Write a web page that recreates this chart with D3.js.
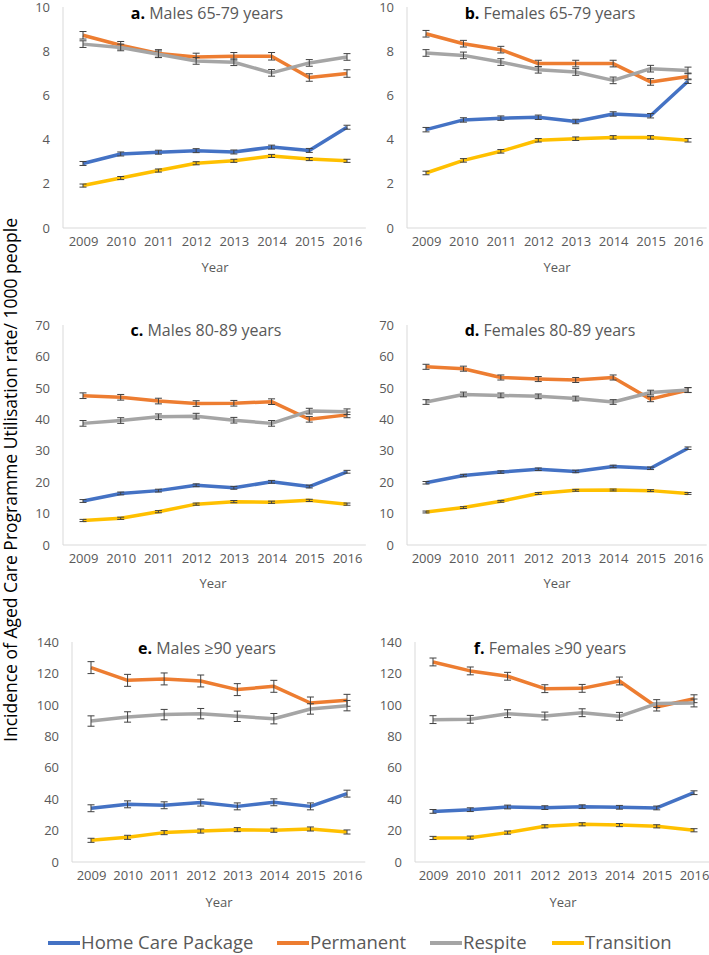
<!DOCTYPE html>
<html><head><meta charset="utf-8">
<script src="https://cdn.jsdelivr.net/npm/d3@7"></script>
<style>body{margin:0;background:#fff} svg{display:block} text{font-family:"Open Sans",sans-serif}</style>
</head><body><svg id="c" width="709" height="955"></svg>
<script>
const years = ["2009","2010","2011","2012","2013","2014","2015","2016"];
const seriesNames = ["Home Care Package","Permanent","Respite","Transition"];

// a. Males 65-79
const aHomeCare  = [2.92,3.35,3.43,3.50,3.44,3.66,3.51,4.56];
const aPermanent = [8.72,8.27,7.90,7.74,7.77,7.77,6.81,6.99];
const aRespite   = [8.32,8.17,7.86,7.56,7.50,7.02,7.47,7.74];
const aTransition= [1.92,2.26,2.60,2.93,3.04,3.26,3.12,3.04];
const aErr = [0.09,0.17,0.15,0.07];
// b. Females 65-79
const bHomeCare  = [4.45,4.89,4.97,5.01,4.82,5.16,5.08,6.64];
const bPermanent = [8.79,8.34,8.07,7.44,7.44,7.44,6.61,6.86];
const bRespite   = [7.92,7.81,7.51,7.16,7.06,6.68,7.21,7.13];
const bTransition= [2.49,3.06,3.47,3.97,4.04,4.10,4.10,3.97];
const bErr = [0.1,0.15,0.15,0.08];
// c. Males 80-89
const cHomeCare  = [14.0,16.4,17.3,19.0,18.2,20.1,18.6,23.3];
const cPermanent = [47.5,47.0,45.8,45.0,45.1,45.6,40.0,41.4];
const cRespite   = [38.7,39.6,40.8,41.0,39.7,38.7,42.6,42.4];
const cTransition= [7.8,8.5,10.6,13.0,13.8,13.6,14.2,13.0];
const cErr = [0.45,0.9,0.9,0.35];
// d. Females 80-89
const dHomeCare  = [19.8,22.1,23.2,24.1,23.4,25.0,24.4,30.8];
const dPermanent = [56.7,56.1,53.3,52.8,52.5,53.3,46.4,49.3];
const dRespite   = [45.5,47.9,47.6,47.3,46.6,45.5,48.5,49.3];
const dTransition= [10.5,11.9,13.9,16.4,17.4,17.5,17.3,16.4];
const dErr = [0.4,0.8,0.75,0.3];
// e. Males >=90
const eHomeCare  = [34.2,36.7,36.1,37.8,35.4,38.0,35.4,43.5];
const ePermanent = [123.7,115.6,116.5,115.2,109.7,111.8,101.2,102.9];
const eRespite   = [89.7,92.3,93.8,94.4,92.7,91.2,97.4,99.5];
const eTransition= [13.8,15.7,18.7,19.7,20.6,20.2,21.0,19.1];
const eErr = [2.2,3.8,3.3,1.3];
// f. Females >=90
const fHomeCare  = [32.2,33.3,35.0,34.6,35.2,34.8,34.4,44.1];
const fPermanent = [127.3,121.6,118.2,110.3,110.5,115.2,98.6,103.9];
const fRespite   = [90.6,90.8,94.4,92.9,95.0,92.7,100.8,101.2];
const fTransition= [15.3,15.5,18.7,22.7,24.0,23.5,22.7,20.2];
const fErr = [1.2,2.5,2.5,1.0];

const panelLetters = ["a.","b.","c.","d.","e.","f."];
const panelNames = ["Males 65-79 years","Females 65-79 years","Males 80-89 years","Females 80-89 years","Males \u226590 years","Females \u226590 years"];
const yMax  = [10,10,70,70,140,140];
const yStep = [2,2,10,10,20,20];
const xLabel = "Year";
const yTitle = "Incidence of Aged Care Programme Utilisation rate/ 1000 people";

const panelData = [
  [aHomeCare,aPermanent,aRespite,aTransition,aErr],
  [bHomeCare,bPermanent,bRespite,bTransition,bErr],
  [cHomeCare,cPermanent,cRespite,cTransition,cErr],
  [dHomeCare,dPermanent,dRespite,dTransition,dErr],
  [eHomeCare,ePermanent,eRespite,eTransition,eErr],
  [fHomeCare,fPermanent,fRespite,fTransition,fErr]
];

const colors = ["#4472C4","#ED7D31","#A5A5A5","#FFC000"];
const layout = [
 {ax:63, x0:83, x1:347, yTop:7, yBot:228, tx:207, ty:13, yearX:215, yearY:267},
 {ax:407,x0:426,x1:688, yTop:7, yBot:228, tx:550, ty:13, yearX:557, yearY:267},
 {ax:63, x0:83, x1:347, yTop:325,yBot:545, tx:206, ty:330,yearX:213, yearY:583},
 {ax:407,x0:426,x1:688, yTop:325,yBot:545, tx:550, ty:330,yearX:557, yearY:583},
 {ax:72, x0:91, x1:347, yTop:642,yBot:862, tx:207, ty:648,yearX:219, yearY:902},
 {ax:415,x0:433,x1:694, yTop:642,yBot:862, tx:550, ty:648,yearX:563, yearY:902}
];

const svg = d3.select("#c");
const textCol = "#595959";

panelData.forEach((pd, i) => {
  const L = layout[i];
  const g = svg.append("g");
  const x = d3.scalePoint().domain(years).range([L.x0, L.x1]);
  const step = x.step();
  const y = d3.scaleLinear().domain([0, yMax[i]]).range([L.yBot, L.yTop]);

  // axis lines
  g.append("line").attr("x1",L.ax).attr("x2",L.ax).attr("y1",L.yTop).attr("y2",L.yBot)
    .attr("stroke","#D9D9D9").attr("stroke-width",1);
  g.append("line").attr("x1",L.ax).attr("x2",L.x1+step/2).attr("y1",L.yBot).attr("y2",L.yBot)
    .attr("stroke","#D9D9D9").attr("stroke-width",1);

  // y ticks
  const yAxis = d3.axisLeft(y).tickValues(d3.range(0, yMax[i]+0.001, yStep[i])).tickSize(0).tickPadding(13);
  const ya = g.append("g").attr("transform",`translate(${L.ax},0)`).call(yAxis);
  ya.select(".domain").remove();
  ya.selectAll("text").attr("fill",textCol).style("font-size","13px").style("font-family","'Open Sans',sans-serif");

  // x ticks
  const xAxis = d3.axisBottom(x).tickSize(0).tickPadding(9);
  const xa = g.append("g").attr("transform",`translate(0,${L.yBot})`).call(xAxis);
  xa.select(".domain").remove();
  xa.selectAll("text").attr("fill",textCol).style("font-size","13px").style("font-family","'Open Sans',sans-serif");

  // x label
  g.append("text").attr("x",L.yearX).attr("y",L.yearY).attr("dy","0.35em").attr("text-anchor","middle")
    .attr("fill",textCol).style("font-size","13px").text(xLabel);

  // title
  const t = g.append("text").attr("x",L.tx).attr("y",L.ty).attr("dy","0.35em").attr("text-anchor","middle")
    .style("font-size","16px");
  t.append("tspan").attr("font-weight","bold").attr("fill","#000").text(panelLetters[i]);
  t.append("tspan").attr("fill",textCol).text(" " + panelNames[i]);

  const line = d3.line().x((d,j)=>x(years[j])).y(d=>y(d));
  const err = pd[4];
  for (let s=0; s<4; s++) {
    const vals = pd[s];
    g.append("path").datum(vals).attr("d",line).attr("fill","none")
      .attr("stroke",colors[s]).attr("stroke-width",3.5).attr("stroke-linejoin","round");
    const eb = g.append("g").attr("stroke","#404040").attr("stroke-width",1);
    vals.forEach((v,j)=>{
      const cx = x(years[j]);
      const y1 = y(v+err[s]), y2 = y(v-err[s]);
      eb.append("line").attr("x1",cx).attr("x2",cx).attr("y1",y1).attr("y2",y2);
      eb.append("line").attr("x1",cx-3.5).attr("x2",cx+3.5).attr("y1",y1).attr("y2",y1);
      eb.append("line").attr("x1",cx-3.5).attr("x2",cx+3.5).attr("y1",y2).attr("y2",y2);
    });
  }
});

// y title
svg.append("text").attr("transform","translate(17,480) rotate(-90)").attr("text-anchor","middle")
  .attr("fill","#000").style("font-size","17.5px").text(yTitle);

// legend
const legX = [48,277,430,552];
const lg = svg.append("g");
seriesNames.forEach((n,k)=>{
  lg.append("line").attr("x1",legX[k]).attr("x2",legX[k]+32).attr("y1",943).attr("y2",943)
    .attr("stroke",colors[k]).attr("stroke-width",4);
  lg.append("text").attr("x",legX[k]+33).attr("y",943).attr("dy","0.35em")
    .attr("fill",textCol).style("font-size","18.5px").text(n);
});
</script></body></html>
